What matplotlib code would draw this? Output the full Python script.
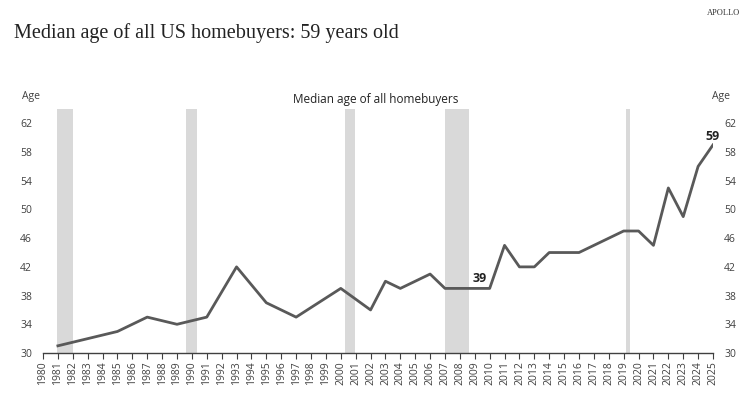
import matplotlib.pyplot as plt
from matplotlib.ticker import FixedLocator

years = [1981, 1985, 1987, 1989, 1991, 1993, 1995, 1997, 2000, 2002, 2003, 2004, 2005, 2006,
         2007, 2008, 2009, 2010, 2011, 2012, 2013, 2014, 2015, 2016, 2017, 2018, 2019, 2020,
         2021, 2022, 2023, 2024, 2025]
median_age = [31, 33, 35, 34, 35, 42, 37, 35, 39, 36, 40, 39, 40, 41,
              39, 39, 39, 39, 45, 42, 42, 44, 44, 44, 45, 46, 47, 47,
              45, 53, 49, 56, 59]

# recession bands (start, end)
recessions = [(1980.92, 1982.0), (1989.58, 1990.32), (2000.28, 2000.97),
              (2007.0, 2008.59), (2019.15, 2019.4)]

y_ticks = [30, 34, 38, 42, 46, 50, 54, 58, 62]
x_ticks = list(range(1980, 2026))

plt.rcParams['font.family'] = ['Open Sans', 'DejaVu Sans']

fig = plt.figure(figsize=(7.52, 4.01), dpi=100)
ax = fig.add_axes([43 / 752, 1 - 353 / 401, 670 / 752, 244 / 401])

for start, end in recessions:
    ax.axvspan(start, end, color='#d9d9d9', lw=0, zorder=0)

ax.plot(years, median_age, color='#595959', lw=2, zorder=3)

ax.set_xlim(1980, 2025)
ax.set_ylim(30, 64)
ax.xaxis.set_major_locator(FixedLocator(x_ticks))
ax.set_xticklabels([str(y) for y in x_ticks], rotation=90, fontsize=7.5, color='#404040')
ax.tick_params(axis='x', direction='out', length=4, width=0.8, color='#404040', pad=2)

ax.yaxis.set_major_locator(FixedLocator(y_ticks))
ax.tick_params(axis='y', length=0, labelsize=7.5, labelcolor='#404040', pad=8,
               labelleft=True, labelright=True)

for side in ['top', 'left', 'right']:
    ax.spines[side].set_visible(False)
ax.spines['bottom'].set_color('#404040')
ax.spines['bottom'].set_linewidth(1)

ax.text(2009.3, 40.4, '39', fontsize=9, fontweight='bold', ha='center', va='center', color='#222222')
ax.text(2025, 60.1, '59', fontsize=9, fontweight='bold', ha='center', va='center', color='#222222')

fig.text(31 / 752, 1 - 97 / 401, 'Age', fontsize=7.5, color='#404040', ha='center', va='center')
fig.text(721 / 752, 1 - 96 / 401, 'Age', fontsize=7.5, color='#404040', ha='center', va='center')
fig.text(376 / 752, 1 - 99 / 401, 'Median age of all homebuyers', fontsize=8.5,
         color='#222222', ha='center', va='center')

fig.text(14 / 752, 1 - 33 / 401, 'Median age of all US homebuyers: 59 years old',
         family='Liberation Serif', fontsize=14.5, color='#222222', ha='left', va='center')
fig.text(740 / 752, 1 - 13 / 401, 'APOLLO', family='Liberation Serif', fontsize=6,
         color='#333333', ha='right', va='center')

fig.savefig('out.png', dpi=100, facecolor='white')
